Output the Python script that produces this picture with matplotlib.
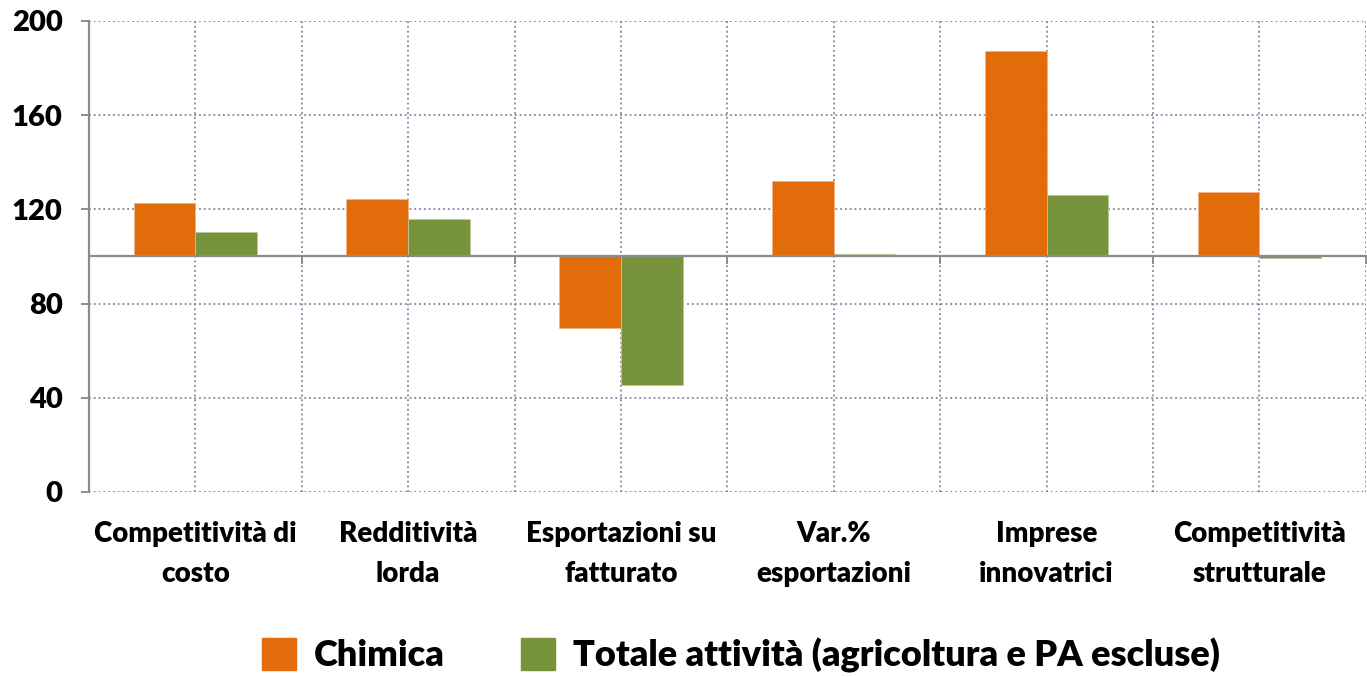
import numpy as np
import matplotlib.pyplot as plt
from matplotlib.patches import Patch

categories = ["Competitività di\ncosto", "Redditività\nlorda", "Esportazioni su\nfatturato",
              "Var.%\nesportazioni", "Imprese\ninnovatrici", "Competitività\nstrutturale"]
chimica = [122.7, 124.4, 69.6, 132.0, 187.3, 127.4]
totale = [110.4, 115.9, 45.4, 101.0, 126.0, 99.2]
series_names = ["Chimica", "Totale attività (agricoltura e PA escluse)"]
yticks = [0, 40, 80, 120, 160, 200]

BASE = 100
ORANGE = "#E36C0A"
GREEN = "#77933C"
GRID = "#8a80a0"
AXIS = "#8c8c8c"
WEIGHT = 'heavy'

plt.rcParams['font.family'] = ['Lato', 'DejaVu Sans']
plt.rcParams['font.weight'] = WEIGHT

fig = plt.figure(figsize=(13.67, 6.77), dpi=100)
ax = fig.add_axes([0.0651, 0.2733, 0.934, 0.6957])

x = np.arange(len(categories))
w = 0.29
ax.bar(x - w / 2, np.array(chimica) - BASE, w, bottom=BASE, color=ORANGE,
       edgecolor="#f2b48a", linewidth=0.6, zorder=3)
ax.bar(x + w / 2, np.array(totale) - BASE, w, bottom=BASE, color=GREEN,
       edgecolor="#b8c99a", linewidth=0.6, zorder=3)

ax.set_xlim(-0.5, len(categories) - 0.5)
ax.set_ylim(0, 200)
ax.set_yticks(yticks)
ax.set_yticklabels([str(v) for v in yticks], fontsize=21, fontweight=WEIGHT)

# horizontal axis sits on the 100 line, ticks at category boundaries
ax.spines['bottom'].set_position(('data', BASE))
ax.spines['bottom'].set_color(AXIS)
ax.spines['bottom'].set_linewidth(1.6)
ax.spines['bottom'].set_zorder(4)
ax.spines['left'].set_color(AXIS)
ax.spines['left'].set_linewidth(1.6)
ax.spines['top'].set_visible(False)
ax.spines['right'].set_visible(False)

ax.set_xticks(np.arange(len(categories) + 1) - 0.5)
ax.set_xticklabels([])
ax.set_xticks(x, minor=True)
ax.tick_params(axis='x', which='major', length=6, color=AXIS, width=1.4, direction='out')
ax.tick_params(axis='x', which='minor', length=0)
ax.tick_params(axis='y', length=6, color=AXIS, width=1.4, pad=13, labelsize=21)

ax.grid(axis='x', which='both', linestyle=':', color=GRID, linewidth=1.3, zorder=0)
ax.grid(axis='y', which='major', linestyle=':', color=GRID, linewidth=1.3, zorder=0)
ax.set_axisbelow(True)

sec = ax.secondary_xaxis(0)
sec.set_xticks(x)
sec.set_xticklabels(categories, fontsize=20, fontweight=WEIGHT, linespacing=1.65)
sec.tick_params(length=0, pad=21)
sec.spines['bottom'].set_visible(False)

handles = [Patch(facecolor=ORANGE, edgecolor=ORANGE), Patch(facecolor=GREEN, edgecolor=GREEN)]
fig.legend(handles, series_names, loc='center', bbox_to_anchor=(0.542, 0.032), ncol=2,
           frameon=False, prop={'size': 26, 'weight': WEIGHT}, handlelength=0.95,
           handleheight=0.95, handletextpad=0.5, columnspacing=2.1)

fig.savefig("out.png", dpi=100)
